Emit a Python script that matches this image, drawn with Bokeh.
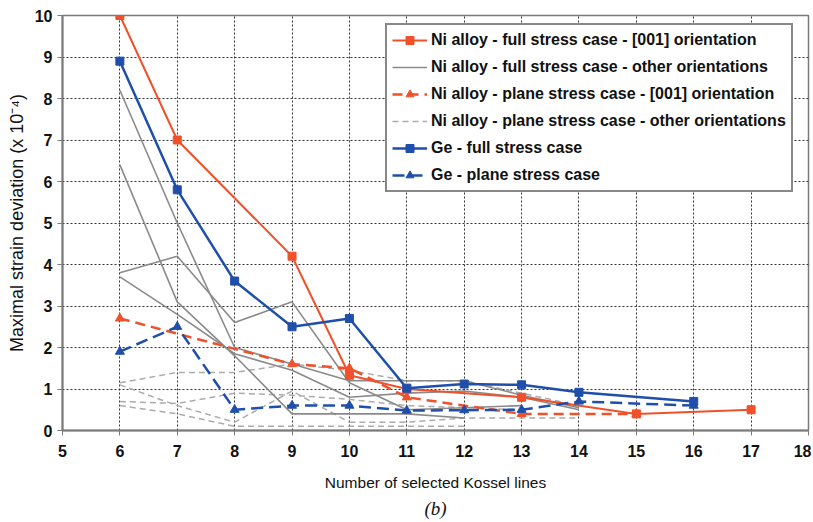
from bokeh.plotting import figure
from bokeh.models import FixedTicker, Legend, LegendItem, Title, Range1d
from bokeh.embed import file_html
from bokeh.resources import INLINE

# ---- data ----
ni_full_001_x = [6, 7, 9, 10, 11, 13, 15, 17]
ni_full_001_y = [10.0, 7.0, 4.2, 1.33, 1.0, 0.8, 0.4, 0.5]

ni_plane_001_x = [6, 9, 10, 11, 13, 15]
ni_plane_001_y = [2.7, 1.6, 1.5, 0.8, 0.4, 0.4]

ge_full_x = [6, 7, 8, 9, 10, 11, 12, 13, 14, 16]
ge_full_y = [8.9, 5.8, 3.6, 2.5, 2.7, 1.02, 1.12, 1.1, 0.92, 0.7]

ge_plane_x = [6, 7, 8, 9, 10, 11, 12, 13, 14, 16]
ge_plane_y = [1.9, 2.5, 0.5, 0.6, 0.6, 0.48, 0.49, 0.5, 0.7, 0.6]

# Ni alloy - full stress case - other orientations (grey solid)
g1_x = [6, 7, 8, 9, 10, 11, 12, 13, 14]
g1_y = [8.2, 5.0, 2.0, 1.6, 1.2, 1.2, 1.2, 0.85, 0.55]
g2_x = [6, 7, 8, 9, 10, 11, 12]
g2_y = [6.4, 3.1, 1.8, 0.4, 0.4, 0.4, 0.3]
g3_x = [6, 7, 8, 9, 10, 11, 12, 13]
g3_y = [3.8, 4.2, 2.6, 3.1, 1.15, 0.5, 0.55, 0.6]
g4_x = [6, 7, 8, 9, 10, 11, 12, 13, 14]
g4_y = [3.7, 2.8, 1.85, 1.45, 0.8, 0.9, 0.95, 0.8, 0.5]

# Ni alloy - plane stress case - other orientations (grey dashed)
d1_x = [6, 7, 8, 9, 10, 11, 12, 13, 14]
d1_y = [1.15, 1.4, 1.4, 1.6, 1.45, 1.2, 1.2, 0.9, 0.6]
d2_x = [6, 7, 8, 9, 10]
d2_y = [1.1, 0.6, 0.2, 0.95, 0.2]
d3_x = [6, 7, 8, 9, 10, 11, 12, 13]
d3_y = [0.7, 0.65, 0.9, 0.85, 0.75, 0.6, 0.55, 0.5]
d4_x = [6, 7, 8, 9, 10, 11, 12]
d4_y = [0.6, 0.4, 0.1, 0.1, 0.1, 0.1, 0.1]
d5_x = [10, 11, 12, 13, 14]
d5_y = [0.2, 0.2, 0.3, 0.3, 0.3]

x_ticks = list(range(5, 19))
y_ticks = list(range(0, 11))

labels = [
    "Ni alloy - full stress case - [001] orientation",
    "Ni alloy - full stress case - other orientations",
    "Ni alloy - plane stress case - [001] orientation",
    "Ni alloy - plane stress case - other orientations",
    "Ge - full stress case",
    "Ge - plane stress case",
]

RED = "#f0502a"
BLUE = "#1f4fab"
GREY = "#8a8a8a"
GREY_D = "#ababab"
FONT = "Liberation Sans"

p = figure(width=811, height=520, x_range=Range1d(5, 18), y_range=Range1d(0, 10),
           output_backend="svg", toolbar_location=None,
           min_border_left=62, min_border_right=3, min_border_top=15, min_border_bottom=89)

# grid / axes
p.xaxis.ticker = FixedTicker(ticks=x_ticks)
p.yaxis.ticker = FixedTicker(ticks=y_ticks)
p.grid.grid_line_color = "#333333"
p.grid.grid_line_dash = "2 2"
p.grid.grid_line_width = 1
p.axis.minor_tick_line_color = None
p.axis.axis_line_color = "#7a7a7a"
p.axis.axis_line_width = 2
p.axis.major_tick_line_color = "#7a7a7a"
p.axis.major_tick_in = 0
p.axis.major_tick_out = 5
p.axis.major_label_text_font = FONT
p.axis.major_label_text_font_style = "bold"
p.axis.major_label_text_font_size = "16px"
p.axis.major_label_text_color = "#111111"
p.xaxis.major_label_standoff = 9
p.yaxis.major_label_standoff = 5
p.xaxis.axis_label = "Number of selected Kossel lines"
p.yaxis.axis_label = "Maximal strain deviation (x 10\u207b\u2074)"
p.axis.axis_label_text_font = FONT
p.axis.axis_label_text_font_style = "normal"
p.yaxis.axis_label_text_font_size = "18px"
p.xaxis.axis_label_text_font_size = "15.5px"
p.axis.axis_label_text_color = "#111111"
p.xaxis.axis_label_standoff = 14
p.yaxis.axis_label_standoff = 5
p.outline_line_color = "#7a7a7a"
p.outline_line_width = 1.5
p.background_fill_color = "white"

# grey dashed
grey_d = []
for xs, ys in [(d1_x, d1_y), (d2_x, d2_y), (d3_x, d3_y), (d4_x, d4_y), (d5_x, d5_y)]:
    grey_d.append(p.line(xs, ys, line_color=GREY_D, line_width=1.5, line_dash="6 4"))
# grey solid
grey_s = []
for xs, ys in [(g1_x, g1_y), (g2_x, g2_y), (g3_x, g3_y), (g4_x, g4_y)]:
    grey_s.append(p.line(xs, ys, line_color=GREY, line_width=1.6))

# Ni plane [001]
r_np_l = p.line(ni_plane_001_x, ni_plane_001_y, line_color=RED, line_width=2.5, line_dash="10 6")
r_np_m = p.scatter(ni_plane_001_x, ni_plane_001_y, marker="triangle", size=9, color=RED)
# Ni full [001]
r_nf_l = p.line(ni_full_001_x, ni_full_001_y, line_color=RED, line_width=2)
r_nf_m = p.scatter(ni_full_001_x, ni_full_001_y, marker="square", size=8, color=RED)
# Ge plane
r_gp_l = p.line(ge_plane_x, ge_plane_y, line_color=BLUE, line_width=2.5, line_dash="12 6")
r_gp_m = p.scatter(ge_plane_x, ge_plane_y, marker="triangle", size=9, color=BLUE)
# Ge full
r_gf_l = p.line(ge_full_x, ge_full_y, line_color=BLUE, line_width=2.5)
r_gf_m = p.scatter(ge_full_x, ge_full_y, marker="square", size=8, color=BLUE)

legend = Legend(items=[
    LegendItem(label=labels[0], renderers=[r_nf_l, r_nf_m]),
    LegendItem(label=labels[1], renderers=[grey_s[0]]),
    LegendItem(label=labels[2], renderers=[r_np_l, r_np_m]),
    LegendItem(label=labels[3], renderers=[grey_d[0]]),
    LegendItem(label=labels[4], renderers=[r_gf_l, r_gf_m]),
    LegendItem(label=labels[5], renderers=[r_gp_l, r_gp_m]),
], location=(323, 238))
legend.margin = 0
legend.padding = 5
legend.spacing = 7
legend.label_height = 20
legend.glyph_height = 20
legend.glyph_width = 35
legend.label_standoff = 4
legend.label_text_font = FONT
legend.label_text_font_style = "bold"
legend.label_text_font_size = "16px"
legend.label_text_color = "#111111"
legend.border_line_color = "#111111"
legend.border_line_width = 2
legend.background_fill_color = "white"
legend.background_fill_alpha = 1.0
p.add_layout(legend, "center")

p.add_layout(Title(text="(b)", align="center", text_font="Liberation Serif",
                   text_font_style="italic", text_font_size="19px",
                   text_color="#111111", offset=-22, standoff=4), "below")

open("out.html", "w").write(file_html(p, INLINE))
